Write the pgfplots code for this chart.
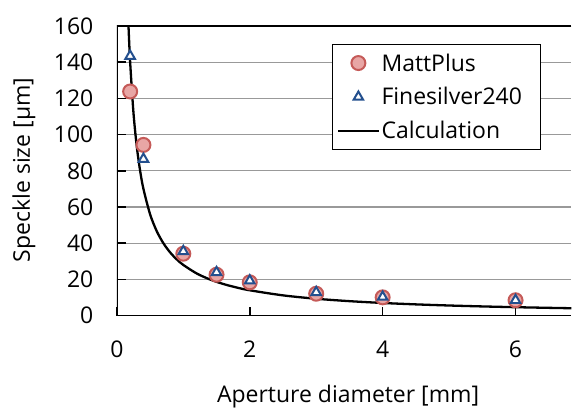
\documentclass[border=0pt]{standalone}
\usepackage{pgfplots}
\pgfplotsset{compat=1.18}
\usepackage{fontspec}
\setmainfont{Open Sans}
\definecolor{mred}{HTML}{C55A58}
\definecolor{mredfill}{HTML}{E8A6A5}
\definecolor{fblue}{HTML}{234F8E}
\begin{document}
\begin{tikzpicture}
\begin{axis}[
  scale only axis, width=455pt, height=290pt,
  xmin=0, xmax=6.84, ymin=0, ymax=160,
  xtick={0,2,4,6}, ytick={0,20,...,160},
  axis x line*=bottom, axis y line*=left,
  xtick align=inside, ytick align=inside, major tick length=9pt,
  every tick/.style={draw=black, line width=1.5pt},
  axis line style={draw=none, -},
  ymajorgrids, grid style={color=black!40, line width=1.3pt},
  /pgf/number format/assume math mode=true,
  tick label style={font=\fontsize{23}{27}\selectfont},
  xticklabel style={yshift=-22pt},
  yticklabel style={xshift=-20pt},
  xlabel={Aperture diameter [mm]},
  ylabel={Speckle size [µm]},
  label style={font=\fontsize{23}{27}\selectfont},
  xlabel style={at={(axis description cs:0.5088,-0.3)}, anchor=base},
  ylabel style={at={(axis description cs:-0.2044,0.503)}, anchor=center},
  legend image code/.code={\draw[mark repeat=2,mark phase=2,#1] plot coordinates {(0pt,0pt) (20pt,0pt) (40pt,0pt)};},
  legend cell align=left,
  legend style={at={(0.4725,0.938)}, anchor=north west, draw=black, line width=1.3pt,
    fill=white, font=\fontsize{23}{27}\selectfont, row sep=11pt, inner xsep=5pt, inner ysep=7pt},
]
\addplot[only marks, mark=*, mark size=7pt, draw=mred, fill=mredfill, line width=2pt]
  coordinates {(0.2,123.8) (0.4,94.3) (1,34.2) (1.5,22.6) (2,18.4) (3,12.1) (4,10.1) (6,8.5)};
\addlegendentry{MattPlus}
\addplot[only marks, mark=triangle*, mark size=5.5pt, draw=fblue, fill=white, line width=2pt]
  coordinates {(0.2,143.4) (0.4,86.5) (1,35.5) (1.5,23.9) (2,19.3) (3,12.9) (4,10.3) (6,8.5)};
\addlegendentry{\makebox[152pt][l]{Finesilver240}}
\addplot[black, line width=2.3pt, smooth, no marks]
  coordinates {(0.16,175) (0.175,160) (0.2,140) (0.25,112) (0.3,93.33) (0.35,80) (0.4,70)
  (0.5,56) (0.6,46.67) (0.7,40) (0.8,35) (0.9,31.11) (1,28) (1.2,23.33) (1.4,20)
  (1.6,17.5) (1.8,15.56) (2,14) (2.5,11.2) (3,9.33) (3.5,8) (4,7) (4.5,6.22) (5,5.6)
  (5.5,5.09) (6,4.67) (6.5,4.31) (6.84,4.09)};
\addlegendentry{Calculation}
\draw[black, line width=2pt] (rel axis cs:1,1) -- (rel axis cs:0,1) -- (rel axis cs:0,0) -- (rel axis cs:1,0);
\end{axis}
\path (current axis.south west) ++(-117pt,-91pt) (current axis.north east) ++(0pt,26pt);
\end{tikzpicture}
\end{document}
